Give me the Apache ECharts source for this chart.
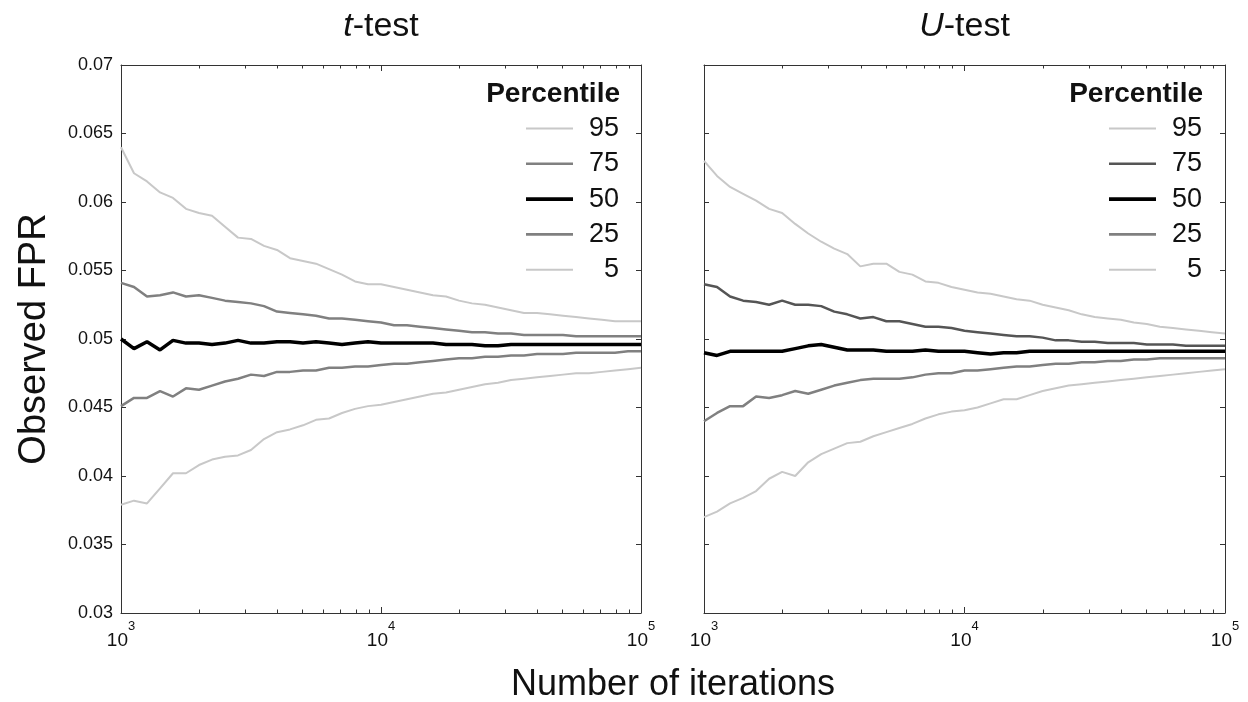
<!DOCTYPE html>
<html>
<head>
<meta charset="utf-8">
<script src="https://cdn.jsdelivr.net/npm/echarts@6/dist/echarts.min.js"></script>
<style>
html,body{margin:0;padding:0;background:#fff;}
#chart{width:1248px;height:702px;}
</style>
</head>
<body>
<div id="chart"></div>
<script>
// ---------- data ----------
const xIter = [1000, 1122, 1259, 1413, 1585, 1778, 1995, 2239, 2512, 2818, 3162, 3548, 3981, 4467, 5012, 5623, 6310, 7079, 7943, 8913, 10000, 11220, 12589, 14125, 15849, 17783, 19953, 22387, 25119, 28184, 31623, 35481, 39811, 44668, 50119, 56234, 63096, 70795, 79433, 89125, 100000];
const percentiles = ['95', '75', '50', '25', '5'];
const panelTitles = ['t', 'U'];
const yTicks = ['0.03', '0.035', '0.04', '0.045', '0.05', '0.055', '0.06', '0.065', '0.07'];
const xMinorTicks = [2000, 3000, 4000, 5000, 6000, 7000, 8000, 9000, 20000, 30000, 40000, 50000, 60000, 70000, 80000, 90000];

// t-test panel
const tP95 = [0.0640,0.0621,0.0615,0.0607,0.0603,0.0595,0.0592,0.0590,0.0582,0.0574,0.0573,0.0568,0.0565,0.0559,0.0557,0.0555,0.0551,0.0547,0.0542,0.0540,0.0540,0.0538,0.0536,0.0534,0.0532,0.0531,0.0528,0.0526,0.0525,0.0523,0.0521,0.0519,0.0519,0.0518,0.0517,0.0516,0.0515,0.0514,0.0513,0.0513,0.0513];
const tP75 = [0.0541,0.0538,0.0531,0.0532,0.0534,0.0531,0.0532,0.0530,0.0528,0.0527,0.0526,0.0524,0.0520,0.0519,0.0518,0.0517,0.0515,0.0515,0.0514,0.0513,0.0512,0.0510,0.0510,0.0509,0.0508,0.0507,0.0506,0.0505,0.0505,0.0504,0.0504,0.0503,0.0503,0.0503,0.0503,0.0502,0.0502,0.0502,0.0502,0.0502,0.0502];
const tP50 = [0.0500,0.0493,0.0498,0.0492,0.0499,0.0497,0.0497,0.0496,0.0497,0.0499,0.0497,0.0497,0.0498,0.0498,0.0497,0.0498,0.0497,0.0496,0.0497,0.0498,0.0497,0.0497,0.0497,0.0497,0.0497,0.0496,0.0496,0.0496,0.0495,0.0495,0.0496,0.0496,0.0496,0.0496,0.0496,0.0496,0.0496,0.0496,0.0496,0.0496,0.0496];
const tP25 = [0.0451,0.0457,0.0457,0.0462,0.0458,0.0464,0.0463,0.0466,0.0469,0.0471,0.0474,0.0473,0.0476,0.0476,0.0477,0.0477,0.0479,0.0479,0.0480,0.0480,0.0481,0.0482,0.0482,0.0483,0.0484,0.0485,0.0486,0.0486,0.0487,0.0487,0.0488,0.0488,0.0489,0.0489,0.0489,0.0490,0.0490,0.0490,0.0490,0.0491,0.0491];
const tP5  = [0.0379,0.0382,0.0380,0.0391,0.0402,0.0402,0.0408,0.0412,0.0414,0.0415,0.0419,0.0427,0.0432,0.0434,0.0437,0.0441,0.0442,0.0446,0.0449,0.0451,0.0452,0.0454,0.0456,0.0458,0.0460,0.0461,0.0463,0.0465,0.0467,0.0468,0.0470,0.0471,0.0472,0.0473,0.0474,0.0475,0.0475,0.0476,0.0477,0.0478,0.0479];

// U-test panel
const uP95 = [0.0630,0.0619,0.0611,0.0606,0.0601,0.0595,0.0592,0.0584,0.0577,0.0571,0.0566,0.0562,0.0553,0.0555,0.0555,0.0549,0.0547,0.0542,0.0541,0.0538,0.0536,0.0534,0.0533,0.0531,0.0529,0.0528,0.0525,0.0523,0.0521,0.0518,0.0516,0.0515,0.0514,0.0512,0.0511,0.0509,0.0508,0.0507,0.0506,0.0505,0.0504];
const uP75 = [0.0540,0.0538,0.0531,0.0528,0.0527,0.0525,0.0528,0.0525,0.0525,0.0524,0.0520,0.0518,0.0515,0.0516,0.0513,0.0513,0.0511,0.0509,0.0509,0.0508,0.0506,0.0505,0.0504,0.0503,0.0502,0.0502,0.0501,0.0499,0.0499,0.0498,0.0498,0.0497,0.0497,0.0497,0.0496,0.0496,0.0496,0.0495,0.0495,0.0495,0.0495];
const uP50 = [0.0490,0.0488,0.0491,0.0491,0.0491,0.0491,0.0491,0.0493,0.0495,0.0496,0.0494,0.0492,0.0492,0.0492,0.0491,0.0491,0.0491,0.0492,0.0491,0.0491,0.0491,0.0490,0.0489,0.0490,0.0490,0.0491,0.0491,0.0491,0.0491,0.0491,0.0491,0.0491,0.0491,0.0491,0.0491,0.0491,0.0491,0.0491,0.0491,0.0491,0.0491];
const uP25 = [0.0440,0.0446,0.0451,0.0451,0.0458,0.0457,0.0459,0.0462,0.0460,0.0463,0.0466,0.0468,0.0470,0.0471,0.0471,0.0471,0.0472,0.0474,0.0475,0.0475,0.0477,0.0477,0.0478,0.0479,0.0480,0.0480,0.0481,0.0482,0.0482,0.0483,0.0483,0.0484,0.0484,0.0485,0.0485,0.0486,0.0486,0.0486,0.0486,0.0486,0.0486];
const uP5  = [0.0370,0.0374,0.0380,0.0384,0.0389,0.0398,0.0403,0.0400,0.0410,0.0416,0.0420,0.0424,0.0425,0.0429,0.0432,0.0435,0.0438,0.0442,0.0445,0.0447,0.0448,0.0450,0.0453,0.0456,0.0456,0.0459,0.0462,0.0464,0.0466,0.0467,0.0468,0.0469,0.0470,0.0471,0.0472,0.0473,0.0474,0.0475,0.0476,0.0477,0.0478];

const panelData = [
  [tP95, tP75, tP50, tP25, tP5],
  [uP95, uP75, uP50, uP25, uP5]
];

// ---------- styling ----------
const FONT = '"Liberation Sans", Arial, Helvetica, sans-serif';
const AXIS_COLOR = '#333';
const lineStyles = [
  [ {color:'#c8c8c8', width:2}, {color:'#808080', width:2.5}, {color:'#000', width:3.5}, {color:'#808080', width:2.5}, {color:'#c8c8c8', width:2} ],
  [ {color:'#c8c8c8', width:2}, {color:'#555555', width:2.5}, {color:'#000', width:3.5}, {color:'#808080', width:2.5}, {color:'#c8c8c8', width:2} ]
];
const legendIcons = ['path://M0,0H47V2H0Z', 'path://M0,0H47V2.6H0Z', 'path://M0,0H47V3.6H0Z', 'path://M0,0H47V2.6H0Z', 'path://M0,0H47V2H0Z'];
const grids = [
  {left:121, right:607, top:65, bottom:89},
  {left:704, right:23, top:65, bottom:89}
];
const panelCenters = [381, 964.5];
const legendLeft = [526, 1109];
const percentileRight = [628, 45];

const xAxes = [], yAxes = [], series = [], legends = [], titles = [];
grids.forEach((g, gi) => {
  const base = {gridIndex: gi, type: 'log', logBase: 10, min: 1000, max: 100000, splitLine:{show:false}};
  xAxes.push(Object.assign({}, base, {
    position: 'bottom',
    axisLine: {show: true, onZero: false, lineStyle: {color: AXIS_COLOR, width: 1}},
    axisTick: {show: true, inside: true, length: 6, lineStyle: {color: AXIS_COLOR}},
    axisLabel: {
      show: true, margin: 7, color: '#111', fontFamily: FONT,
      formatter: v => '{b|10}{s|' + Math.round(Math.log10(v)) + '}',
      rich: {
        b: {fontSize: 19, fontFamily: FONT, color: '#111', padding: [11, 0, 0, 0]},
        s: {fontSize: 13, fontFamily: FONT, color: '#111', verticalAlign: 'top'}
      }
    }
  }));
  xAxes.push(Object.assign({}, base, {
    position: 'top',
    axisLine: {show: true, onZero: false, lineStyle: {color: AXIS_COLOR, width: 1}},
    axisTick: {show: true, inside: true, length: 6, lineStyle: {color: AXIS_COLOR}},
    axisLabel: {show: false}
  }));
  xAxes.push(Object.assign({}, base, {
    position: 'bottom',
    axisLine: {show: false, onZero: false},
    axisTick: {show: true, inside: true, length: 3.5, customValues: xMinorTicks, lineStyle: {color: AXIS_COLOR}},
    axisLabel: {show: false}
  }));
  xAxes.push(Object.assign({}, base, {
    position: 'top',
    axisLine: {show: false, onZero: false},
    axisTick: {show: true, inside: true, length: 3.5, customValues: xMinorTicks, lineStyle: {color: AXIS_COLOR}},
    axisLabel: {show: false}
  }));
  const ybase = {gridIndex: gi, type: 'value', min: 0.03, max: 0.07, interval: 0.005, splitLine:{show:false}};
  yAxes.push(Object.assign({}, ybase, {
    position: 'left',
    axisLine: {show: true, onZero: false, lineStyle: {color: AXIS_COLOR, width: 1}},
    axisTick: {show: true, inside: true, length: 5, lineStyle: {color: AXIS_COLOR}},
    axisLabel: {
      show: gi === 0, margin: 8, fontSize: 18, color: '#111', fontFamily: FONT,
      formatter: v => yTicks[Math.round((v - 0.03) / 0.005)]
    }
  }));
  yAxes.push(Object.assign({}, ybase, {
    position: 'right',
    axisLine: {show: true, onZero: false, lineStyle: {color: AXIS_COLOR, width: 1}},
    axisTick: {show: true, inside: true, length: 5, lineStyle: {color: AXIS_COLOR}},
    axisLabel: {show: false}
  }));

  const order = [0, 1, 3, 4, 2]; // draw median last
  order.forEach(k => {
    series.push({
      type: 'line',
      name: percentiles[k],
      xAxisIndex: gi * 4,
      yAxisIndex: gi * 2,
      data: xIter.map((x, i) => [x, panelData[gi][k][i]]),
      symbol: 'none',
      smooth: false,
      lineStyle: lineStyles[gi][k],
      itemStyle: {color: lineStyles[gi][k].color},
      z: k === 2 ? 5 : 3,
      silent: true,
      animation: false
    });
  });

  legends.push({
    orient: 'vertical',
    left: legendLeft[gi],
    top: 115,
    padding: 0,
    itemWidth: 47,
    itemHeight: 14,
    itemGap: 8.3,
    selectedMode: false,
    data: percentiles.map((p, k) => ({name: p, icon: legendIcons[k], itemStyle: {color: lineStyles[gi][k].color}})),
    formatter: name => '{n|' + name + '}',
    textStyle: {
      rich: {n: {width: 41, align: 'right', fontSize: 27, lineHeight: 27, fontFamily: FONT, color: '#111'}}
    }
  });

  titles.push({
    text: '{i|' + panelTitles[gi] + '}{r|-test}',
    left: panelCenters[gi],
    textAlign: 'center',
    top: 10,
    padding: 0,
    textStyle: {
      fontWeight: 'normal',
      rich: {
        i: {fontSize: 34, fontStyle: 'italic', fontWeight: 'normal', fontFamily: FONT, color: '#111', lineHeight: 34},
        r: {fontSize: 34, fontWeight: 'normal', fontFamily: FONT, color: '#111', lineHeight: 34}
      }
    }
  });
  titles.push({
    text: 'Percentile',
    right: percentileRight[gi],
    top: 80,
    padding: 0,
    textStyle: {fontSize: 28, fontWeight: 'bold', fontFamily: FONT, color: '#111', lineHeight: 28}
  });
});

const chart = echarts.init(document.getElementById('chart'), null, {renderer: 'canvas'});
chart.setOption({
  backgroundColor: '#fff',
  animation: false,
  title: titles,
  legend: legends,
  grid: grids,
  xAxis: xAxes,
  yAxis: yAxes,
  series: series,
  graphic: [
    {
      type: 'text', x: 35, y: 339, rotation: Math.PI / 2,
      style: {text: 'Observed FPR', fontSize: 38, fontFamily: FONT, fill: '#111', textAlign: 'center', textVerticalAlign: 'middle'}
    },
    {
      type: 'text', x: 673, y: 685,
      style: {text: 'Number of iterations', fontSize: 36, fontFamily: FONT, fill: '#111', textAlign: 'center', textVerticalAlign: 'middle'}
    }
  ]
});
</script>
</body>
</html>
